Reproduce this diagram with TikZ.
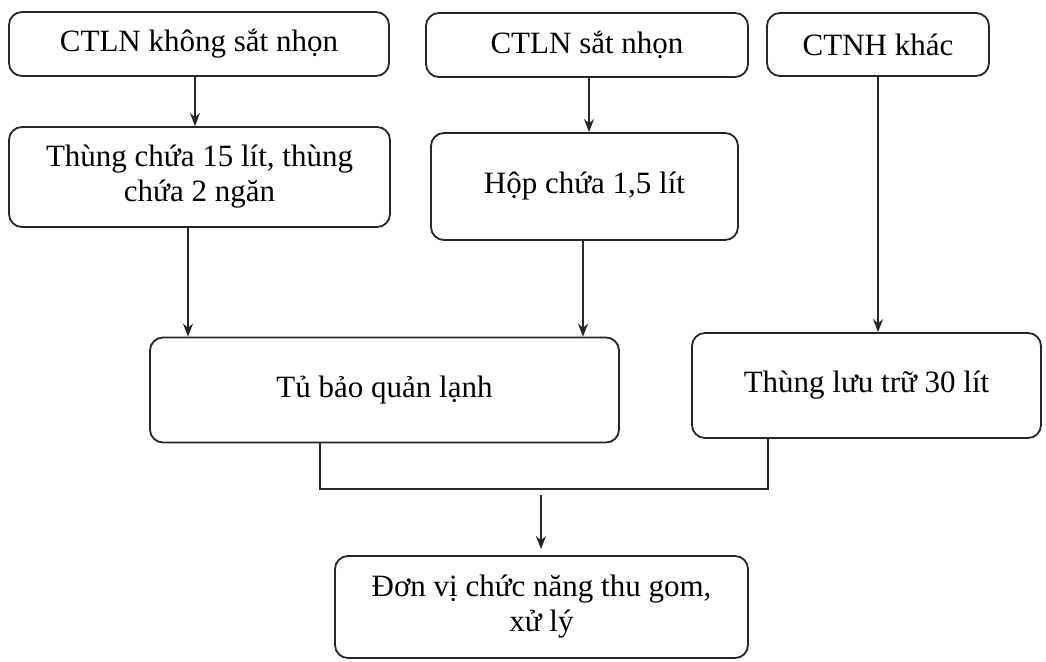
\documentclass[tikz,border=0pt]{standalone}
\usepackage{fontspec}
\setmainfont{Liberation Serif}
\usetikzlibrary{arrows.meta}

\begin{document}
\begin{tikzpicture}[x=1pt, y=-1pt,
  box/.style={draw=black!85, line width=1.8pt, rounded corners=13pt,
    align=center, inner sep=0pt, font=\fontsize{31}{35}\selectfont},
  link/.style={draw=black!85, line width=1.8pt},
  arr/.style={link, -{Stealth[length=13pt, width=10pt]}}]
\useasboundingbox (0,0) rectangle (1046,661);

% sources
\node[box, minimum width=380pt, minimum height=64pt] (src1) at (199,44) {CTLN không sắt nhọn};
\node[box, minimum width=322pt, minimum height=64pt] (src2) at (587,45) {CTLN sắt nhọn};
\node[box, minimum width=222pt, minimum height=63pt] (src3) at (878,44.5) {CTNH khác};

% containers
\node[box, minimum width=381pt, minimum height=100pt] (bin15) at (199.5,177) {Thùng chứa 15 lít, thùng\\chứa 2 ngăn};
\node[box, minimum width=307pt, minimum height=107pt] (sharps) at (584.5,186.5) {Hộp chứa 1,5 lít};

% storage
\node[box, minimum width=469pt, minimum height=105pt] (fridge) at (384.5,390) {Tủ bảo quản lạnh};
\node[box, minimum width=349pt, minimum height=105pt] (bin30) at (866.5,385.5) {Thùng lưu trữ 30 lít};

% final treatment
\node[box, minimum width=413pt, minimum height=102pt] (unit) at (541.5,607) {Đơn vị chức năng thu gom,\\xử lý};

% connector columns
\coordinate (colA) at (195,0);
\coordinate (colB) at (589,0);
\coordinate (colC) at (878,0);
\coordinate (colD) at (188,0);
\coordinate (colE) at (583,0);
\coordinate (colF) at (320,0);
\coordinate (colG) at (768,0);
\coordinate (merge) at (541,489);

\draw[arr] (src1.south -| colA) -- (bin15.north -| colA);
\draw[arr] (src2.south -| colB) -- (sharps.north -| colB);
\draw[arr] (src3.south -| colC) -- (bin30.north -| colC);
\draw[arr] (bin15.south -| colD) -- (fridge.north -| colD);
\draw[arr] (sharps.south -| colE) -- (fridge.north -| colE);

\draw[link] (fridge.south -| colF) |- (merge) -| (bin30.south -| colG);
\draw[arr, shorten >=6pt] ([yshift=-6pt]merge) -- (unit.north -| merge);
\end{tikzpicture}
\end{document}
